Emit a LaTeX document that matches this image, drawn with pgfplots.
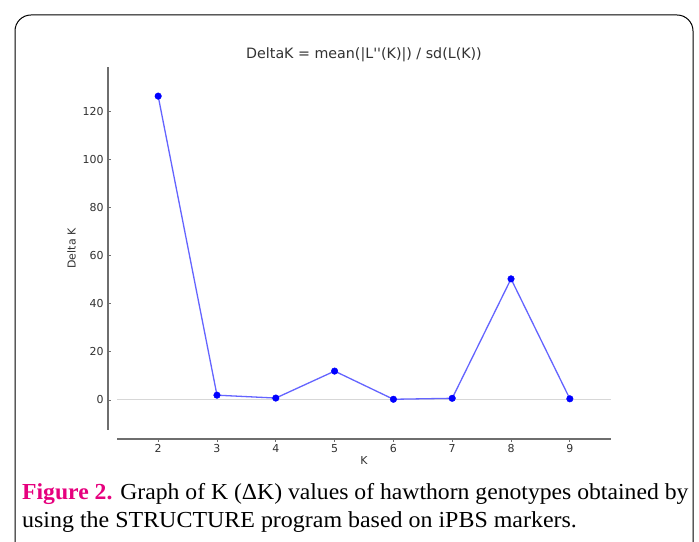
\documentclass[border=0pt]{standalone}
\usepackage{pgfplots}
\pgfplotsset{compat=1.18}
\usepackage{fontspec}
\setmainfont{Liberation Serif}
\newfontfamily\dejavu{DejaVu Sans}
\definecolor{figmag}{RGB}{230,0,126}
\definecolor{spine}{RGB}{110,110,110}
\definecolor{txt}{RGB}{50,50,50}
\definecolor{lineblue}{RGB}{100,100,255}
\begin{document}
\begin{tikzpicture}[x=1bp,y=1bp]
\useasboundingbox (0,0) rectangle (699,542);
\clip (0,0) rectangle (699,542);
\fill[white] (0,0) rectangle (699,542);
\draw[line width=1bp, rounded corners=16bp] (15,-30) rectangle (693,527);
% x spine
\begin{axis}[at={(117bp,103bp)}, anchor=south west, scale only axis,
  width=494bp, height=1bp, xmin=1.3, xmax=9.7, ymin=0, ymax=1,
  axis x line*=bottom, axis y line=none,
  x axis line style={draw=spine, line width=1.6bp, -},
  xtick={2,3,4,5,6,7,8,9},
  tick style={draw=spine, line width=0.8bp},
  major tick length=3bp, tick align=outside,
  ticklabel style={font=\dejavu\fontsize{11}{13}\selectfont, text=txt},
  /pgf/number format/assume math mode=true,
  xticklabel style={yshift=1bp},
  xlabel={K}, xlabel style={font=\dejavu\fontsize{11}{13}\selectfont, text=txt, yshift=3bp}]
\end{axis}
% y spine
\begin{axis}[at={(108bp,112bp)}, anchor=south west, scale only axis,
  width=1bp, height=363bp, ymin=-12.46, ymax=138.3, xmin=0, xmax=1,
  axis y line*=left, axis x line=none,
  y axis line style={draw=spine, line width=1.6bp, -},
  ytick={0,20,40,60,80,100,120},
  tick style={draw=spine, line width=0.8bp},
  major tick length=3bp, tick align=inside,
  ticklabel style={font=\dejavu\fontsize{11}{13}\selectfont, text=txt},
  /pgf/number format/assume math mode=true,
  yticklabel style={xshift=-1bp},
  ylabel={Delta K}, ylabel style={font=\dejavu\fontsize{11}{13}\selectfont, text=txt, yshift=0bp}]
\end{axis}
% data
\begin{axis}[at={(117bp,112bp)}, anchor=south west, scale only axis,
  width=494bp, height=363bp, xmin=1.3, xmax=9.7, ymin=-12.46, ymax=138.3,
  hide axis, clip=false,
  title={DeltaK = mean(|L''(K)|) / sd(L(K))},
  title style={font=\dejavu\fontsize{14.3}{16}\selectfont, text=txt, yshift=-4bp}]
\addplot[draw={rgb,255:red,215;green,215;blue,215}, line width=1bp, forget plot] coordinates {(1.3,0) (9.7,0)};
\addplot[lineblue, line width=1.3bp] coordinates {(2,126.2) (3,2.0) (4,0.8) (5,12.0) (6,0.3) (7,0.7) (8,50.3) (9,0.5)};
\addplot[only marks, mark=*, mark size=3.3bp, mark options={fill=blue, draw=blue}] coordinates {(2,126.2) (3,2.0) (4,0.8) (5,12.0) (6,0.3) (7,0.7) (8,50.3) (9,0.5)};
\end{axis}
\node[anchor=base west, inner sep=0, xscale=1.033, font=\fontsize{23}{26}\selectfont] at (22,42) {\textcolor{figmag}{\textbf{Figure 2.}} Graph of K (ΔK) values of hawthorn genotypes obtained by};
\node[anchor=base west, inner sep=0, xscale=1.045, font=\fontsize{23}{26}\selectfont] at (22,14) {using the STRUCTURE program based on iPBS markers.};
\end{tikzpicture}
\end{document}
